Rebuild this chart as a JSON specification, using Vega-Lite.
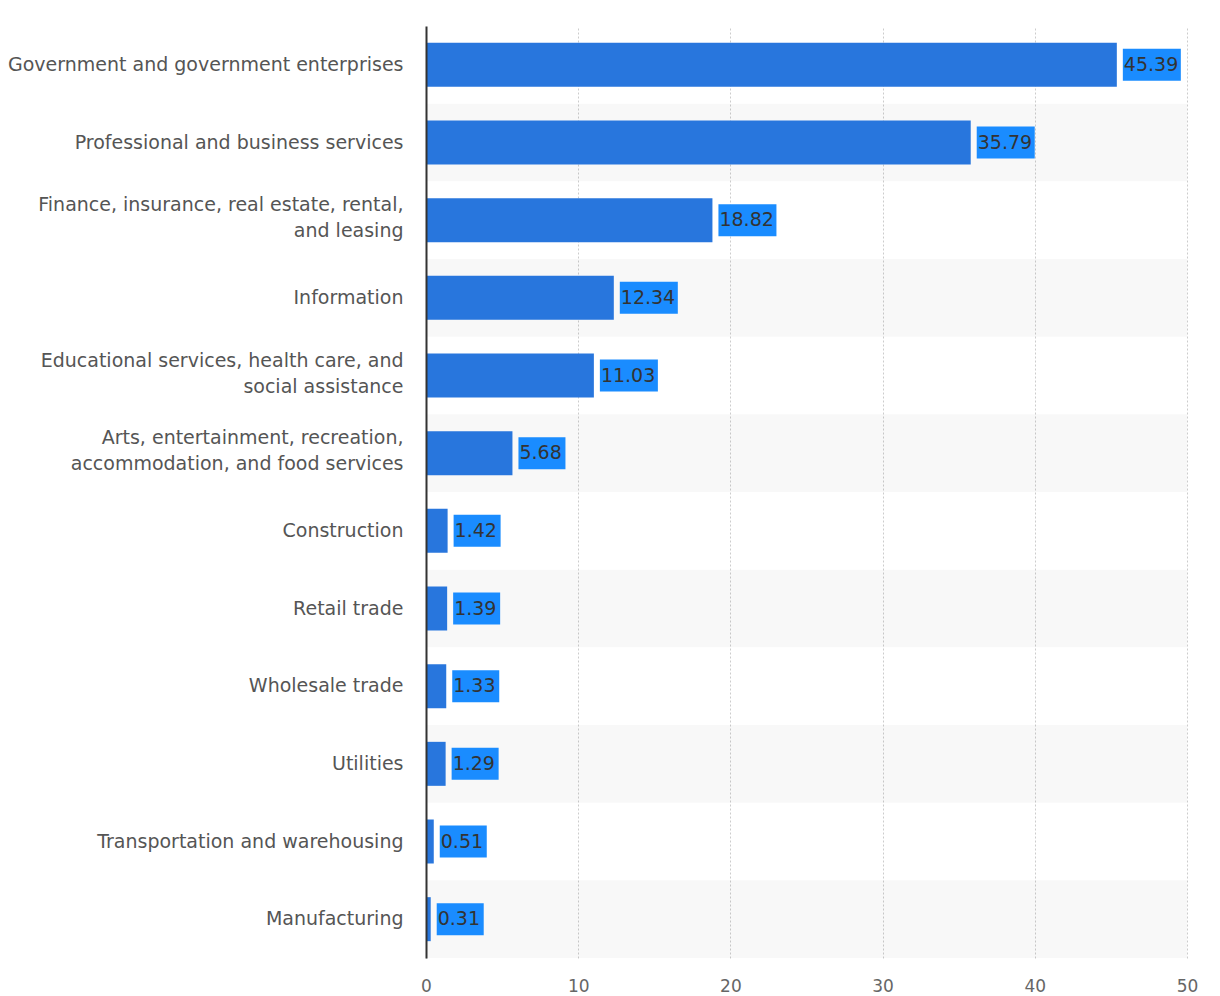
{
  "$schema": "https://vega.github.io/schema/vega-lite/v6.json",
  "width": 761,
  "height": 932,
  "autosize": {"type": "none"},
  "padding": {"left": 426, "top": 26, "right": 33, "bottom": 38},
  "background": "white",
  "config": {"view": {"stroke": null}, "font": "DejaVu Sans"},
  "datasets": {
    "sectors": [
      {"sector": "Government and government enterprises", "value": 45.39},
      {"sector": "Professional and business services", "value": 35.79},
      {"sector": "Finance, insurance, real estate, rental,|and leasing", "value": 18.82},
      {"sector": "Information", "value": 12.34},
      {"sector": "Educational services, health care, and|social assistance", "value": 11.03},
      {"sector": "Arts, entertainment, recreation,|accommodation, and food services", "value": 5.68},
      {"sector": "Construction", "value": 1.42},
      {"sector": "Retail trade", "value": 1.39},
      {"sector": "Wholesale trade", "value": 1.33},
      {"sector": "Utilities", "value": 1.29},
      {"sector": "Transportation and warehousing", "value": 0.51},
      {"sector": "Manufacturing", "value": 0.31}
    ],
    "stripes": [
      {"sector": "Professional and business services"},
      {"sector": "Information"},
      {"sector": "Arts, entertainment, recreation,|accommodation, and food services"},
      {"sector": "Retail trade"},
      {"sector": "Utilities"},
      {"sector": "Manufacturing"}
    ]
  },
  "encoding": {
    "y": {
      "field": "sector",
      "type": "nominal",
      "title": null,
      "scale": {
        "domain": [
          "Government and government enterprises",
          "Professional and business services",
          "Finance, insurance, real estate, rental,|and leasing",
          "Information",
          "Educational services, health care, and|social assistance",
          "Arts, entertainment, recreation,|accommodation, and food services",
          "Construction",
          "Retail trade",
          "Wholesale trade",
          "Utilities",
          "Transportation and warehousing",
          "Manufacturing"
        ],
        "paddingInner": 0,
        "paddingOuter": 0
      },
      "axis": {
        "labelExpr": "split(datum.label, '|')",
        "labelFontSize": 19,
        "labelColor": "#555555",
        "labelPadding": 23,
        "labelLineHeight": 26,
        "labelLimit": 420,
        "labelOffset": {
          "condition": {"test": "indexof(datum.label, '|') >= 0", "value": -15},
          "value": 0
        },
        "ticks": false,
        "domain": true,
        "domainColor": "#333333",
        "domainWidth": 2,
        "grid": false,
        "zindex": 1
      }
    }
  },
  "layer": [
    {
      "data": {"name": "stripes"},
      "mark": {"type": "rect", "color": "#000000", "opacity": 0.028},
      "encoding": {
        "x": {
          "datum": 0,
          "type": "quantitative",
          "title": null,
          "scale": {"domain": [0, 50], "nice": false},
          "axis": {
            "values": [0, 10, 20, 30, 40, 50],
            "grid": true,
            "gridDash": [2, 2],
            "gridColor": "#cccccc",
            "ticks": false,
            "domain": false,
            "labelFontSize": 17,
            "labelColor": "#666666",
            "labelPadding": 20,
            "labelFlush": false
          }
        },
        "x2": {"datum": 50}
      }
    },
    {
      "data": {"name": "sectors"},
      "mark": {"type": "bar", "color": "#2876dd", "height": 44},
      "encoding": {
        "x": {
          "field": "value",
          "type": "quantitative",
          "title": null,
          "scale": {"domain": [0, 50], "nice": false},
          "axis": {
            "values": [0, 10, 20, 30, 40, 50],
            "grid": true,
            "gridDash": [2, 2],
            "gridColor": "#cccccc",
            "ticks": false,
            "domain": false,
            "labelFontSize": 17,
            "labelColor": "#666666",
            "labelPadding": 20,
            "labelFlush": false
          }
        }
      }
    },
    {
      "data": {"name": "sectors"},
      "transform": [{"filter": "datum.value >= 10"}],
      "mark": {"type": "bar", "color": "#1a8cff", "height": 32, "xOffset": 6, "x2Offset": 64},
      "encoding": {
        "x": {"field": "value", "type": "quantitative", "title": null},
        "x2": {"field": "value"}
      }
    },
    {
      "data": {"name": "sectors"},
      "transform": [{"filter": "datum.value < 10"}],
      "mark": {"type": "bar", "color": "#1a8cff", "height": 32, "xOffset": 6, "x2Offset": 53},
      "encoding": {
        "x": {"field": "value", "type": "quantitative", "title": null},
        "x2": {"field": "value"}
      }
    },
    {
      "data": {"name": "sectors"},
      "mark": {"type": "text", "align": "left", "baseline": "middle", "dx": 7, "fontSize": 19, "color": "#333333"},
      "encoding": {
        "x": {"field": "value", "type": "quantitative", "title": null},
        "text": {"field": "value", "type": "quantitative", "format": ".2f"}
      }
    }
  ]
}
